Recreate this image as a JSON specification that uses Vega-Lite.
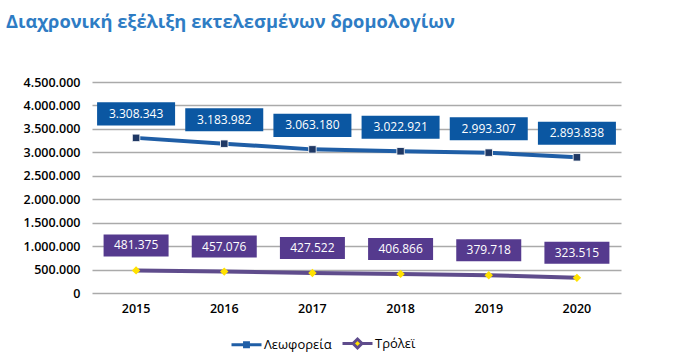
{
  "$schema": "https://vega.github.io/schema/vega-lite/v6.json",
  "width": 529,
  "height": 211,
  "autosize": {"type": "none"},
  "padding": {"left": 92, "top": 82, "right": 57, "bottom": 71},
  "config": {
    "locale": {"number": {"decimal": ",", "thousands": ".", "grouping": [3], "currency": ["", " €"]}},
    "view": {"stroke": null},
    "font": "Open Sans"
  },
  "title": {
    "text": "Διαχρονική εξέλιξη εκτελεσμένων δρομολογίων",
    "anchor": "start",
    "frame": "group",
    "dx": -86,
    "offset": 30,
    "baseline": "alphabetic",
    "fontSize": 18.3,
    "fontWeight": "bold",
    "color": "#2e7cc4",
    "font": "Open Sans"
  },
  "data": {
    "values": [
      {"year": "2015", "series": "Λεωφορεία", "value": 3308343},
      {"year": "2016", "series": "Λεωφορεία", "value": 3183982},
      {"year": "2017", "series": "Λεωφορεία", "value": 3063180},
      {"year": "2018", "series": "Λεωφορεία", "value": 3022921},
      {"year": "2019", "series": "Λεωφορεία", "value": 2993307},
      {"year": "2020", "series": "Λεωφορεία", "value": 2893838},
      {"year": "2015", "series": "Τρόλεϊ", "value": 481375},
      {"year": "2016", "series": "Τρόλεϊ", "value": 457076},
      {"year": "2017", "series": "Τρόλεϊ", "value": 427522},
      {"year": "2018", "series": "Τρόλεϊ", "value": 406866},
      {"year": "2019", "series": "Τρόλεϊ", "value": 379718},
      {"year": "2020", "series": "Τρόλεϊ", "value": 323515}
    ]
  },
  "encoding": {
    "x": {
      "field": "year",
      "type": "ordinal",
      "scale": {"type": "band", "paddingInner": 0, "paddingOuter": 0},
      "axis": {
        "title": null,
        "labelAngle": 0,
        "domain": false,
        "ticks": false,
        "grid": false,
        "labelPadding": 9,
        "labelFontSize": 12.5,
        "labelFontWeight": 600,
        "labelColor": "#000000"
      }
    },
    "y": {
      "field": "value",
      "type": "quantitative",
      "scale": {"domain": [0, 4500000], "nice": false},
      "axis": {
        "title": null,
        "values": [0, 500000, 1000000, 1500000, 2000000, 2500000, 3000000, 3500000, 4000000, 4500000],
        "format": ",d",
        "domain": false,
        "ticks": false,
        "labelPadding": 12,
        "labelFontSize": 12.5,
        "labelFontWeight": 600,
        "labelColor": "#000000",
        "gridColor": "#aaaaaa",
        "gridWidth": 1.5
      }
    }
  },
  "layer": [
    {
      "mark": {"type": "line", "strokeWidth": 4},
      "encoding": {
        "color": {
          "field": "series",
          "type": "nominal",
          "scale": {"domain": ["Λεωφορεία", "Τρόλεϊ"], "range": ["#1f5ea6", "#5f4c8c"]},
          "legend": {
            "title": null,
            "orient": "none",
            "direction": "horizontal",
            "legendX": 138,
            "legendY": 245,
            "padding": 0,
            "labelFontSize": 13,
            "labelColor": "#000000",
            "labelOffset": 1,
            "columnPadding": 4,
            "symbolSize": 900,
            "symbolStrokeWidth": 3,
            "encode": {
              "symbols": {
                "update": {
                  "shape": {"signal": "datum.value === 'Τρόλεϊ' ? 'M-1,0H-0.22M0.22,0H1M0,-0.3L0.3,0L0,0.3L-0.3,0Z' : 'M-1,0H1M-0.13,-0.13H0.13V0.13H-0.13Z'"},
                  "fill": {"signal": "datum.value === 'Τρόλεϊ' ? '#ffe100' : '#1f3864'"},
                  "stroke": {"signal": "datum.value === 'Τρόλεϊ' ? '#5f4c8c' : '#2f5e94'"},
                  "strokeWidth": {"value": 3},
                  "size": {"value": 900},
                  "opacity": {"value": 1}
                }
              }
            }
          }
        }
      }
    },
    {
      "transform": [{"filter": "datum.series === 'Λεωφορεία'"}],
      "mark": {"type": "point", "filled": true, "opacity": 1, "shape": "square", "size": 56, "fill": "#1f3864", "stroke": "#ffffff", "strokeWidth": 0.8},
      "encoding": {}
    },
    {
      "transform": [{"filter": "datum.series === 'Τρόλεϊ'"}],
      "mark": {"type": "point", "filled": true, "opacity": 1, "shape": "diamond", "size": 70, "fill": "#ffe100", "strokeWidth": 0},
      "encoding": {}
    },
    {
      "transform": [{"filter": "datum.series === 'Λεωφορεία'"}],
      "mark": {"type": "point", "filled": true, "opacity": 1, "shape": "M-1,-0.295H1V0.295H-1Z", "size": 6084, "fill": "#0b57a2", "strokeWidth": 0, "yOffset": -24},
      "encoding": {}
    },
    {
      "transform": [{"filter": "datum.series === 'Λεωφορεία'"}],
      "mark": {"type": "text", "color": "#ffffff", "fontSize": 12, "baseline": "middle", "align": "center", "yOffset": -24},
      "encoding": {"text": {"field": "value", "type": "quantitative", "format": ",d"}}
    },
    {
      "transform": [{"filter": "datum.series === 'Τρόλεϊ'"}],
      "mark": {"type": "point", "filled": true, "opacity": 1, "shape": "M-1,-0.338H1V0.338H-1Z", "size": 4225, "fill": "#553a8e", "strokeWidth": 0, "yOffset": -25},
      "encoding": {}
    },
    {
      "transform": [{"filter": "datum.series === 'Τρόλεϊ'"}],
      "mark": {"type": "text", "color": "#ffffff", "fontSize": 12, "baseline": "middle", "align": "center", "yOffset": -25},
      "encoding": {"text": {"field": "value", "type": "quantitative", "format": ",d"}}
    }
  ]
}
